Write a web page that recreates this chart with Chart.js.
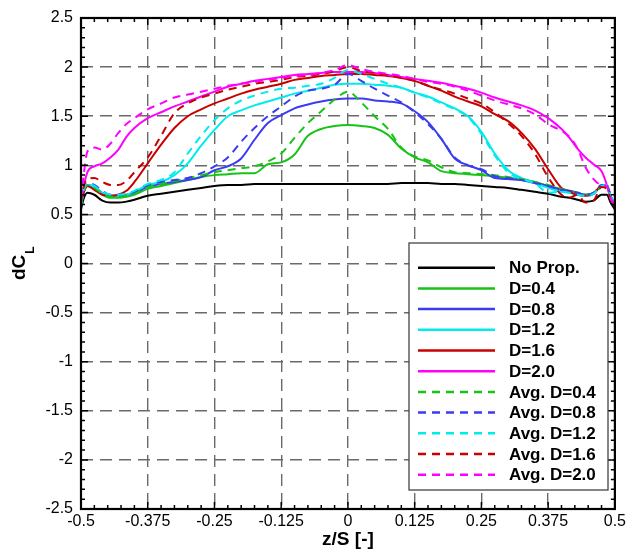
<!DOCTYPE html>
<html>
<head>
<meta charset="utf-8">
<title>dCL spanwise distribution</title>
<script src="https://cdn.jsdelivr.net/npm/chart.js@4.4.1/dist/chart.umd.min.js"></script>
<style>
    html, body { margin: 0; padding: 0; background: #fff; }
    #wrap { width: 629px; height: 549px; }
</style>
</head>
<body>
<div id="wrap"><canvas id="chartfield" width="629" height="549"></canvas></div>
<script>
// spanwise stations z/S
const zPos = [
    -0.5, -0.495, -0.488, -0.475, -0.46, -0.445, -0.43, -0.415, -0.4,
    -0.375, -0.35, -0.325, -0.3, -0.275, -0.25, -0.225, -0.2, -0.175, -0.15, -0.125, -0.1, -0.075, -0.05, -0.025, 0,
    0.025, 0.05, 0.075, 0.1, 0.125, 0.15, 0.175, 0.2, 0.225, 0.25, 0.275, 0.3, 0.325, 0.35, 0.375, 0.4,
    0.415, 0.43, 0.445, 0.46, 0.475, 0.485, 0.492, 0.5,
];

const noProp = [
    0.55, 0.66, 0.72, 0.70, 0.64, 0.62, 0.62, 0.63, 0.65,
    0.69, 0.71, 0.73, 0.75, 0.77, 0.79, 0.80, 0.80, 0.81, 0.81, 0.81, 0.81, 0.81, 0.81, 0.81, 0.81,
    0.81, 0.81, 0.81, 0.82, 0.82, 0.82, 0.81, 0.81, 0.80, 0.79, 0.78, 0.77, 0.75, 0.73, 0.71, 0.68,
    0.67, 0.65, 0.63, 0.64, 0.70, 0.70, 0.62, 0.55,
];
const d04 = [
    0.58, 0.72, 0.79, 0.76, 0.70, 0.67, 0.67, 0.68, 0.70,
    0.76, 0.79, 0.82, 0.85, 0.88, 0.90, 0.91, 0.92, 0.92, 1.01, 1.03, 1.11, 1.30, 1.37, 1.40, 1.41,
    1.40, 1.38, 1.31, 1.17, 1.08, 1.03, 0.94, 0.92, 0.91, 0.90, 0.89, 0.87, 0.86, 0.83, 0.79, 0.76,
    0.74, 0.72, 0.70, 0.72, 0.79, 0.80, 0.68, 0.60,
];
const d08 = [
    0.59, 0.73, 0.80, 0.78, 0.72, 0.69, 0.69, 0.70, 0.72,
    0.78, 0.81, 0.83, 0.85, 0.88, 0.95, 0.99, 1.07, 1.26, 1.43, 1.51, 1.58, 1.62, 1.65, 1.67, 1.68,
    1.68, 1.66, 1.65, 1.63, 1.55, 1.44, 1.27, 1.07, 1.00, 0.95, 0.87, 0.86, 0.85, 0.82, 0.79, 0.75,
    0.74, 0.72, 0.70, 0.72, 0.79, 0.80, 0.69, 0.60,
];
const d12 = [
    0.59, 0.73, 0.80, 0.78, 0.72, 0.69, 0.69, 0.70, 0.73,
    0.80, 0.83, 0.90, 1.02, 1.20, 1.36, 1.50, 1.56, 1.61, 1.65, 1.69, 1.73, 1.76, 1.79, 1.82, 1.83,
    1.83, 1.82, 1.81, 1.79, 1.74, 1.70, 1.64, 1.58, 1.50, 1.34, 1.12, 0.95, 0.87, 0.82, 0.77, 0.73,
    0.72, 0.70, 0.69, 0.71, 0.79, 0.80, 0.68, 0.60,
];
const d16 = [
    0.60, 0.72, 0.79, 0.75, 0.70, 0.69, 0.70, 0.74, 0.83,
    1.02, 1.21, 1.38, 1.50, 1.57, 1.63, 1.68, 1.73, 1.77, 1.80, 1.83, 1.87, 1.89, 1.91, 1.92, 1.93,
    1.93, 1.92, 1.91, 1.89, 1.86, 1.81, 1.76, 1.70, 1.65, 1.60, 1.52, 1.45, 1.33, 1.17, 0.96, 0.77,
    0.73, 0.70, 0.69, 0.71, 0.79, 0.79, 0.66, 0.58,
];
const d20 = [
    0.62, 0.78, 0.93, 0.99, 1.02, 1.08, 1.16, 1.29, 1.38,
    1.48, 1.54, 1.60, 1.65, 1.70, 1.75, 1.80, 1.83, 1.86, 1.88, 1.90, 1.92, 1.93, 1.94, 1.95, 1.95,
    1.95, 1.94, 1.92, 1.90, 1.88, 1.86, 1.84, 1.81, 1.78, 1.74, 1.69, 1.65, 1.61, 1.56, 1.48, 1.37,
    1.28, 1.17, 1.08, 1.01, 0.94, 0.80, 0.66, 0.60,
];
const avgD04 = [
    0.60, 0.73, 0.80, 0.77, 0.71, 0.68, 0.68, 0.70, 0.72,
    0.78, 0.81, 0.84, 0.87, 0.90, 0.93, 0.95, 0.97, 0.99, 1.04, 1.12, 1.28, 1.43, 1.55, 1.67, 1.75,
    1.64, 1.50, 1.37, 1.18, 1.09, 1.05, 0.98, 0.93, 0.92, 0.91, 0.90, 0.88, 0.86, 0.83, 0.80, 0.76,
    0.74, 0.72, 0.70, 0.71, 0.78, 0.79, 0.69, 0.61,
];
const avgD08 = [
    0.60, 0.75, 0.82, 0.80, 0.74, 0.70, 0.70, 0.71, 0.73,
    0.80, 0.83, 0.85, 0.87, 0.92, 0.99, 1.08, 1.24, 1.38, 1.50, 1.60, 1.70, 1.76, 1.78, 1.82, 1.93,
    1.86, 1.78, 1.71, 1.64, 1.54, 1.42, 1.27, 1.08, 1.00, 0.96, 0.89, 0.87, 0.85, 0.82, 0.79, 0.75,
    0.74, 0.72, 0.70, 0.72, 0.80, 0.80, 0.69, 0.60,
];
const avgD12 = [
    0.60, 0.75, 0.82, 0.79, 0.73, 0.70, 0.70, 0.71, 0.74,
    0.81, 0.85, 0.93, 1.12, 1.30, 1.46, 1.58, 1.66, 1.71, 1.75, 1.78, 1.79, 1.81, 1.83, 1.89, 1.97,
    1.93, 1.88, 1.83, 1.79, 1.74, 1.69, 1.63, 1.57, 1.49, 1.32, 1.10, 0.93, 0.86, 0.82, 0.72, 0.73,
    0.72, 0.70, 0.69, 0.71, 0.79, 0.80, 0.68, 0.60,
];
const avgD16 = [
    0.62, 0.78, 0.86, 0.87, 0.83, 0.80, 0.80, 0.84, 0.93,
    1.08, 1.30, 1.53, 1.63, 1.69, 1.73, 1.77, 1.80, 1.83, 1.85, 1.87, 1.90, 1.91, 1.93, 1.96, 2.00,
    1.96, 1.94, 1.92, 1.89, 1.86, 1.81, 1.77, 1.73, 1.68, 1.63, 1.54, 1.43, 1.30, 1.12, 0.88, 0.70,
    0.67, 0.70, 0.62, 0.64, 0.78, 0.76, 0.66, 0.58,
];
const avgD20 = [
    0.65, 0.90, 1.14, 1.18, 1.16, 1.22, 1.33, 1.42, 1.48,
    1.57, 1.63, 1.69, 1.72, 1.75, 1.78, 1.81, 1.83, 1.85, 1.87, 1.89, 1.91, 1.92, 1.94, 1.97, 2.02,
    1.98, 1.95, 1.93, 1.91, 1.88, 1.85, 1.83, 1.80, 1.76, 1.71, 1.66, 1.62, 1.58, 1.52, 1.42, 1.35,
    1.29, 1.17, 0.98, 0.86, 0.80, 0.79, 0.66, 0.60,
];

const seriesNames = [
    "No Prop.", "D=0.4", "D=0.8", "D=1.2", "D=1.6", "D=2.0",
    "Avg. D=0.4", "Avg. D=0.8", "Avg. D=1.2", "Avg. D=1.6", "Avg. D=2.0",
];
const seriesValues = [noProp, d04, d08, d12, d16, d20, avgD04, avgD08, avgD12, avgD16, avgD20];

const lineColors = [
    "#000000", "#16c316", "#3b3bf2", "#00ecec", "#c80000", "#ff00ff",
    "#16c316", "#3b3bf2", "#00ecec", "#c80000", "#ff00ff",
];
const avgDash = [8, 6];

const FONT = "'Liberation Sans', Arial, Helvetica, sans-serif";
Chart.defaults.font.family = FONT;
Chart.defaults.color = "#000";

function buildDatasets() {
    return seriesNames.map((name, i) => ({
        label: name,
        data: zPos.map((z, k) => ({ x: z, y: seriesValues[i][k] })),
        borderColor: lineColors[i],
        borderWidth: 2,
        borderDash: name.startsWith("Avg") ? avgDash : [],
        pointRadius: 0,
        fill: false,
        cubicInterpolationMode: "monotone",
        order: -i,
    }));
}

// frame with inward ticks, axis titles and the boxed legend
const framePlugin = {
    id: "frame",
    afterDatasetsDraw(chart) {
        const ctx = chart.ctx;
        const { left, right, top, bottom } = chart.chartArea;
        const xs = chart.scales.x;
        const ys = chart.scales.y;

        ctx.save();
        ctx.strokeStyle = "#000";
        ctx.setLineDash([]);

        ctx.lineWidth = 1.5;
        for (let i = 0; i <= 40; i++) {
            const px = xs.getPixelForValue(-0.5 + i * 0.025);
            const len = i % 5 === 0 ? 7 : 4;
            ctx.beginPath();
            ctx.moveTo(px, bottom);
            ctx.lineTo(px, bottom - len);
            ctx.moveTo(px, top);
            ctx.lineTo(px, top + len);
            ctx.stroke();
        }
        for (let i = 0; i <= 50; i++) {
            const py = ys.getPixelForValue(-2.5 + i * 0.1);
            const len = i % 5 === 0 ? 7 : 4;
            ctx.beginPath();
            ctx.moveTo(left, py);
            ctx.lineTo(left + len, py);
            ctx.moveTo(right, py);
            ctx.lineTo(right - len, py);
            ctx.stroke();
        }

        ctx.lineWidth = 2.2;
        ctx.strokeRect(left, top, right - left, bottom - top);

        // axis titles
        ctx.fillStyle = "#000";
        ctx.font = `bold 19px ${FONT}`;
        ctx.textAlign = "center";
        ctx.textBaseline = "middle";
        ctx.fillText("z/S [-]", (left + right) / 2, 540);

        ctx.save();
        ctx.translate(25, 280);
        ctx.rotate(-Math.PI / 2);
        ctx.textAlign = "left";
        ctx.textBaseline = "alphabetic";
        ctx.fillText("dC", 0, 0);
        const w = ctx.measureText("dC").width;
        ctx.font = `bold 12px ${FONT}`;
        ctx.fillText("L", w + 1, 9);
        ctx.restore();

        // legend box
        const box = { x: 409, y: 243, w: 199, h: 247 };
        ctx.fillStyle = "#fff";
        ctx.fillRect(box.x, box.y, box.w, box.h);
        ctx.lineWidth = 1.3;
        ctx.strokeStyle = "#444";
        ctx.strokeRect(box.x, box.y, box.w, box.h);

        ctx.font = `bold 17px ${FONT}`;
        ctx.textAlign = "left";
        ctx.textBaseline = "middle";
        chart.data.datasets.forEach((ds, i) => {
            const y = 267.7 + i * 20.7;
            ctx.strokeStyle = ds.borderColor;
            ctx.lineWidth = 2.5;
            ctx.setLineDash(ds.borderDash);
            ctx.beginPath();
            ctx.moveTo(418, y);
            ctx.lineTo(495, y);
            ctx.stroke();
            ctx.setLineDash([]);
            ctx.fillStyle = "#000";
            ctx.fillText(ds.label, 509, y + 1);
        });
        ctx.restore();
    },
};

document.addEventListener("DOMContentLoaded", () => {
    const canvas = document.querySelector("#chartfield");
    const gridStyle = {
        color: "#6a6a6a",
        lineWidth: 1.4,
        drawTicks: false,
    };

    new Chart(canvas, {
        type: "line",
        data: { datasets: buildDatasets() },
        options: {
            responsive: false,
            animation: false,
            devicePixelRatio: 1,
            layout: { padding: { top: 18, right: 12, bottom: 0, left: 0 } },
            plugins: {
                legend: { display: false },
                tooltip: { enabled: false },
            },
            scales: {
                x: {
                    type: "linear",
                    min: -0.5,
                    max: 0.5,
                    grid: gridStyle,
                    border: { display: false, dash: [12, 7] },
                    ticks: {
                        stepSize: 0.125,
                        autoSkip: false,
                        maxRotation: 0,
                        padding: 3,
                        font: { size: 16 },
                        callback: (v) => String(v),
                    },
                    afterFit: (scale) => { scale.height = 40; },
                },
                y: {
                    type: "linear",
                    min: -2.5,
                    max: 2.5,
                    grid: gridStyle,
                    border: { display: false, dash: [12, 7] },
                    ticks: {
                        stepSize: 0.5,
                        autoSkip: false,
                        padding: 8,
                        font: { size: 16 },
                        callback: (v) => String(v),
                    },
                    afterFit: (scale) => { scale.width = 81; },
                },
            },
        },
        plugins: [framePlugin],
    });
});
</script>
</body>
</html>
